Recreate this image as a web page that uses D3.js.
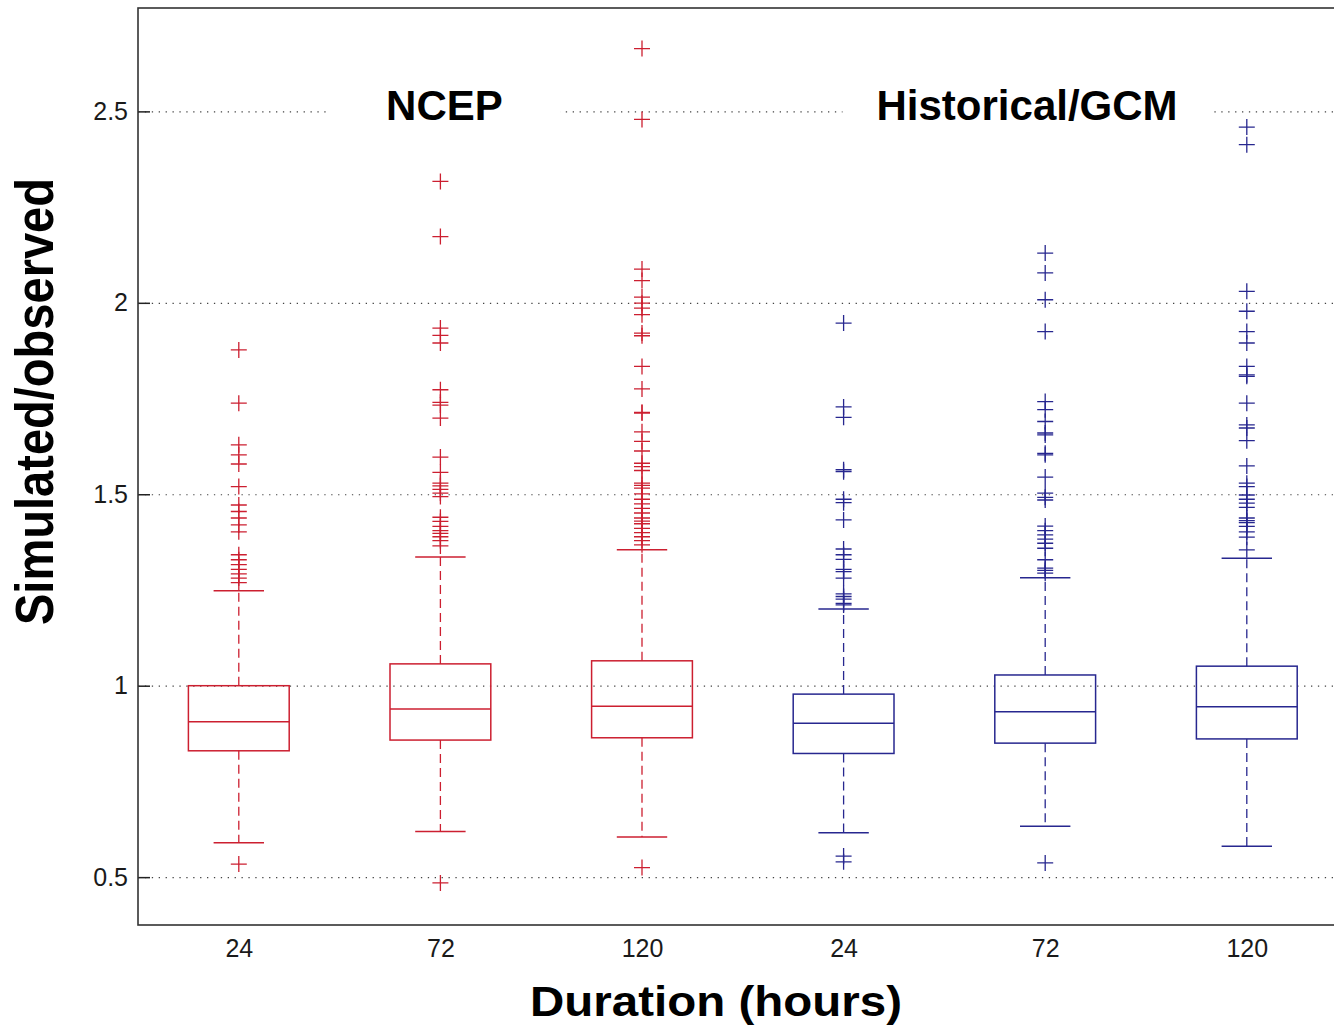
<!DOCTYPE html>
<html>
<head>
<meta charset="utf-8">
<script src="https://cdn.jsdelivr.net/npm/d3@7"></script>
<style>
  body { margin: 0; background: #fff; }
  svg { display: block; font-family: "Liberation Sans", Arial, sans-serif; }
</style>
</head>
<body>
<div id="chart"></div>
<script>
// -------------------------------
// Data
// -------------------------------
const categories = ['24', '72', '120', '24', '72', '120'];
const groups = ['NCEP', 'NCEP', 'NCEP', 'GCM', 'GCM', 'GCM'];
const q3 = [1.000, 1.057, 1.065, 0.978, 1.028, 1.051];
const medians = [0.906, 0.939, 0.946, 0.902, 0.932, 0.945];
const q1 = [0.830, 0.858, 0.864, 0.823, 0.850, 0.861];
const whiskerLow = [0.590, 0.619, 0.605, 0.616, 0.633, 0.581];
const whiskerHigh = [1.248, 1.336, 1.355, 1.200, 1.282, 1.333];
const outliers = [
  [1.877, 1.738, 1.629, 1.603, 1.579, 1.520, 1.472, 1.455, 1.438, 1.420, 1.402,
   1.342, 1.329, 1.316, 1.304, 1.292, 1.281, 1.269, 0.534],
  [2.317, 2.173, 1.934, 1.915, 1.895, 1.773, 1.740, 1.733, 1.699, 1.597, 1.557,
   1.529, 1.522, 1.513, 1.503, 1.494, 1.440, 1.429, 1.416, 1.405, 1.398, 1.389,
   1.379, 1.365, 0.485],
  [2.664, 2.479, 2.088, 2.058, 2.015, 1.999, 1.986, 1.969, 1.921, 1.914, 1.834,
   1.775, 1.714, 1.712, 1.663, 1.638, 1.613, 1.581, 1.572, 1.562, 1.529, 1.523,
   1.516, 1.501, 1.487, 1.475, 1.463, 1.451, 1.438, 1.430, 1.423, 1.411, 1.400,
   1.389, 1.379, 1.368, 0.525],
  [1.947, 1.728, 1.701, 1.564, 1.559, 1.487, 1.478, 1.433, 1.357, 1.342, 1.330,
   1.304, 1.298, 1.281, 1.240, 1.233, 1.226, 1.215, 1.211, 0.555, 0.540],
  [2.130, 2.078, 2.008, 1.925, 1.742, 1.721, 1.690, 1.660, 1.655, 1.607, 1.603,
   1.545, 1.503, 1.492, 1.485, 1.417, 1.405, 1.394, 1.383, 1.372, 1.359, 1.329,
   1.307, 1.301, 1.294, 0.537],
  [2.459, 2.413, 2.030, 1.978, 1.925, 1.895, 1.834, 1.812, 1.808, 1.738, 1.681,
   1.673, 1.640, 1.574, 1.529, 1.520, 1.498, 1.487, 1.477, 1.466, 1.438, 1.431,
   1.426, 1.416, 1.402, 1.388, 1.355]
];
const yTicks = [0.5, 1, 1.5, 2, 2.5];
const groupLabels = ['NCEP', 'Historical/GCM'];
const groupLabelX = [2.02, 4.91];

const colors = { NCEP: '#cc1f30', GCM: '#27278f' };

// -------------------------------
// Layout
// -------------------------------
const W = 1334, H = 1027;
const plotLeft = 138, plotTop = 8, plotBottom = 925;
const xs = d3.scaleLinear().domain([0.5, 6.5]).range([plotLeft, plotLeft + 6 * 201.6]);
const ys = d3.scaleLinear().domain([0.375, 2.77]).range([plotBottom, plotTop]);

const svg = d3.select('#chart').append('svg')
  .attr('width', W)
  .attr('height', H);

svg.append('rect').attr('width', W).attr('height', H).attr('fill', '#fff');

// dotted grid
svg.append('g')
  .attr('transform', `translate(${plotLeft},0)`)
  .call(d3.axisLeft(ys).tickValues(yTicks).tickSize(-(xs(6.5) - plotLeft)).tickFormat(''))
  .call(g => g.select('.domain').remove())
  .call(g => g.selectAll('line')
    .attr('stroke', '#444')
    .attr('stroke-width', 1.2)
    .attr('stroke-dasharray', '1.3,5.6'));

// group labels with white boxes that break the grid line
const labelGroup = svg.append('g');
groupLabels.forEach((t, i) => {
  const g = labelGroup.append('g');
  const txt = g.append('text')
    .attr('x', xs(groupLabelX[i]))
    .attr('y', 120)
    .attr('text-anchor', 'middle')
    .attr('font-size', 42)
    .attr('font-weight', 'bold')
    .attr('fill', '#000')
    .text(t);
  const bb = txt.node().getBBox();
  const pad = i === 0 ? 58 : 34;
  g.insert('rect', 'text')
    .attr('x', bb.x - pad)
    .attr('y', bb.y - 4)
    .attr('width', bb.width + 2 * pad)
    .attr('height', bb.height + 8)
    .attr('fill', '#fff');
});

// -------------------------------
// Boxes
// -------------------------------
const boxW = xs(1) - xs(0.5);   // half of a slot
const capW = boxW / 2;

categories.forEach((c, i) => {
  const cx = xs(i + 1);
  const col = colors[groups[i]];
  const g = svg.append('g').attr('stroke', col).attr('fill', 'none');

  // whiskers (dashed)
  g.append('line')
    .attr('x1', cx).attr('x2', cx)
    .attr('y1', ys(q3[i])).attr('y2', ys(whiskerHigh[i]))
    .attr('stroke-width', 1.3).attr('stroke-dasharray', '9,5');
  g.append('line')
    .attr('x1', cx).attr('x2', cx)
    .attr('y1', ys(q1[i])).attr('y2', ys(whiskerLow[i]))
    .attr('stroke-width', 1.3).attr('stroke-dasharray', '9,5');

  // caps
  [whiskerHigh[i], whiskerLow[i]].forEach(v => {
    g.append('line')
      .attr('x1', cx - capW / 2).attr('x2', cx + capW / 2)
      .attr('y1', ys(v)).attr('y2', ys(v))
      .attr('stroke-width', 1.5);
  });

  // box + median
  g.append('rect')
    .attr('x', cx - boxW / 2)
    .attr('y', ys(q3[i]))
    .attr('width', boxW)
    .attr('height', ys(q1[i]) - ys(q3[i]))
    .attr('stroke-width', 1.5);
  g.append('line')
    .attr('x1', cx - boxW / 2).attr('x2', cx + boxW / 2)
    .attr('y1', ys(medians[i])).attr('y2', ys(medians[i]))
    .attr('stroke-width', 1.5);

  // outliers as '+'
  g.selectAll('path.out')
    .data(outliers[i])
    .enter().append('path')
      .attr('class', 'out')
      .attr('stroke-width', 1.3)
      .attr('d', v => `M${cx - 8},${ys(v)}H${cx + 8}M${cx},${ys(v) - 8}V${ys(v) + 8}`);
});

// -------------------------------
// Axes and frame
// -------------------------------
svg.append('g')
  .attr('transform', `translate(${plotLeft},0)`)
  .call(d3.axisLeft(ys).tickValues(yTicks).tickSize(-12).tickPadding(10)
    .tickFormat(d3.format('')))
  .call(g => g.select('.domain').remove())
  .call(g => g.selectAll('line').attr('stroke', '#222').attr('stroke-width', 1.5))
  .call(g => g.selectAll('text')
    .attr('font-size', 25).attr('fill', '#1a1a1a')
    .attr('font-family', '"Liberation Sans", Arial, sans-serif'));

svg.append('g')
  .attr('transform', `translate(0,${plotBottom})`)
  .call(d3.axisBottom(xs).tickValues(d3.range(1, 7)).tickSize(0).tickPadding(14)
    .tickFormat(d => categories[d - 1]))
  .call(g => g.select('.domain').remove())
  .call(g => g.selectAll('text')
    .attr('font-size', 25).attr('fill', '#1a1a1a')
    .attr('font-family', '"Liberation Sans", Arial, sans-serif'));

svg.append('rect')
  .attr('x', plotLeft).attr('y', plotTop)
  .attr('width', xs(6.5) - plotLeft).attr('height', plotBottom - plotTop)
  .attr('fill', 'none')
  .attr('stroke', '#333')
  .attr('stroke-width', 1.6);

// axis titles
svg.append('text')
  .attr('x', 716).attr('y', 1016)
  .attr('text-anchor', 'middle')
  .attr('font-size', 42).attr('font-weight', 'bold')
  .attr('textLength', 372).attr('lengthAdjust', 'spacingAndGlyphs')
  .text('Duration (hours)');

svg.append('text')
  .attr('transform', 'translate(53,401.5) rotate(-90)')
  .attr('text-anchor', 'middle')
  .attr('font-size', 54).attr('font-weight', 'bold')
  .attr('textLength', 447).attr('lengthAdjust', 'spacingAndGlyphs')
  .text('Simulated/observed');
</script>
</body>
</html>
